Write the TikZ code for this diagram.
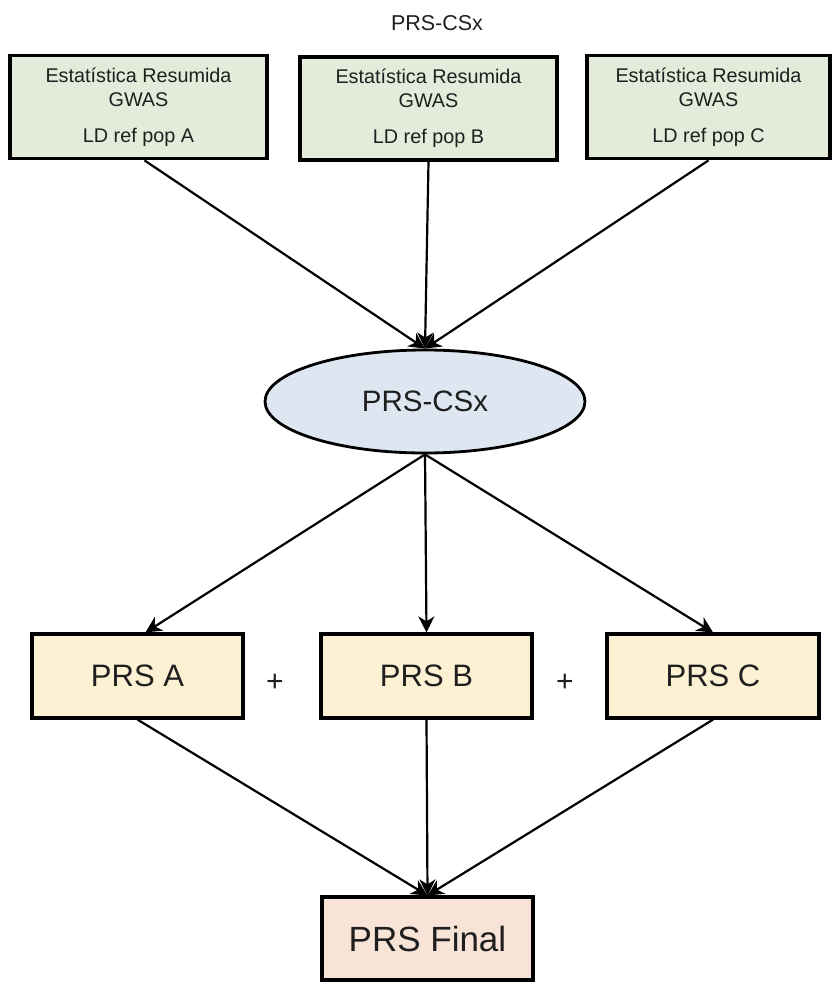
\documentclass[tikz,border=0pt]{standalone}
\usepackage{fontspec}
\setmainfont{Liberation Sans}
\usepackage{tikz}
\usetikzlibrary{shapes.geometric}
\usetikzlibrary{arrows.meta}
\definecolor{gwasfill}{HTML}{E3ECDA}
\definecolor{csxfill}{HTML}{DDE6F1}
\definecolor{prsfill}{HTML}{FCF1D3}
\definecolor{finalfill}{HTML}{F8E3D7}
\tikzstyle{box}=[draw, inner sep=0pt, text=black!88]
\tikzstyle{gwasbox}=[box, fill=gwasfill, line width=3.8pt, minimum width=257pt, minimum height=103pt, align=center, font=\fontsize{19.8}{24}\selectfont]
\tikzstyle{prsbox}=[box, fill=prsfill, line width=3.2pt, minimum width=211pt, minimum height=84pt, font=\fontsize{31}{36}\selectfont]
\tikzstyle{csx}=[box, ellipse, fill=csxfill, line width=2.8pt, minimum width=320pt, minimum height=103pt, font=\fontsize{29.5}{34}\selectfont]
\tikzstyle{arr}=[line width=2.2pt, -{Stealth[length=16pt, width=16pt, inset=5pt]}]

\begin{document}
\begin{tikzpicture}[x=1pt, y=-1pt]
        \useasboundingbox (0, 0) rectangle (832, 983);
        \node[text=black!88, font=\fontsize{21.5}{26}\selectfont] (title) at (437, 23) {PRS-CSx};
        \node[gwasbox] (gA) at (138.5, 107) {Estatística Resumida\\GWAS\\[12pt]LD ref pop A};
        \node[gwasbox] (gB) at (428.5, 108.5) {Estatística Resumida\\GWAS\\[12pt]LD ref pop B};
        \node[gwasbox, minimum width=243pt] (gC) at (708.5, 107) {Estatística Resumida\\GWAS\\[12pt]LD ref pop C};
        \node[csx] (prs) at (425, 401.5) {PRS-CSx};
        \node[prsbox] (pA) at (137.5, 676) {PRS A};
        \node[prsbox] (pB) at (426.5, 676) {PRS B};
        \node[prsbox, minimum width=212pt] (pC) at (713, 676) {PRS C};
        \node[text=black!88, font=\fontsize{30}{34}\selectfont] (plus1) at (275, 683) {+};
        \node[text=black!88, font=\fontsize{30}{34}\selectfont] (plus2) at (565, 683) {+};
        \node[box, fill=finalfill, line width=3.2pt, minimum width=211pt, minimum height=83pt, font=\fontsize{35}{40}\selectfont] (fin) at (427.5, 938.5) {PRS Final};
        \draw[arr] ([xshift=6pt]gA.south) -- (prs.north);
        \draw[arr] (gB.south) -- (prs.north);
        \draw[arr] (gC.south) -- (prs.north);
        \draw[arr] (prs.south) -- ([xshift=8pt]pA.north);
        \draw[arr] (prs.south) -- (pB.north);
        \draw[arr] (prs.south) -- (pC.north);
        \draw[arr] (pA.south) -- (fin.north);
        \draw[arr] (pB.south) -- (fin.north);
        \draw[arr] (pC.south) -- (fin.north);
    \end{tikzpicture}
\end{document}
